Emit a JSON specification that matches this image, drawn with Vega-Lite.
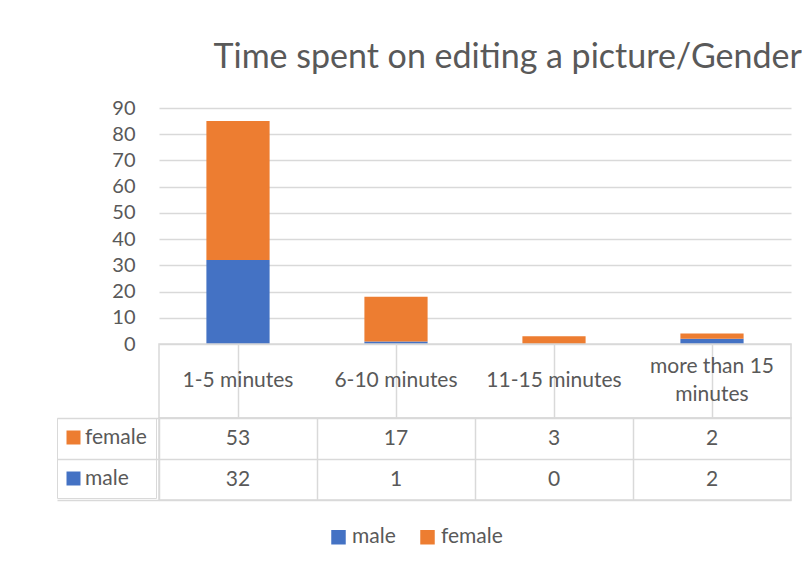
{
  "$schema": "https://vega.github.io/schema/vega-lite/v6.json",
  "padding": {"left": 55, "top": 40, "right": 0, "bottom": 5},
  "autosize": {"type": "pad"},
  "background": "white",
  "bounds": "flush",
  "spacing": 0,
  "title": {
    "text": "Time spent on editing a picture/Gender",
    "anchor": "start",
    "dx": 158,
    "offset": 23.5,
    "font": "Lato",
    "fontSize": 34,
    "fontWeight": "normal",
    "color": "#595959"
  },
  "datasets": {
    "counts": [
      {"cat": "1-5 minutes", "series": "male", "value": 32},
      {"cat": "6-10 minutes", "series": "male", "value": 1},
      {"cat": "11-15 minutes", "series": "male", "value": 0},
      {"cat": "more than 15 minutes", "series": "male", "value": 2},
      {"cat": "1-5 minutes", "series": "female", "value": 53},
      {"cat": "6-10 minutes", "series": "female", "value": 17},
      {"cat": "11-15 minutes", "series": "female", "value": 3},
      {"cat": "more than 15 minutes", "series": "female", "value": 2}
    ],
    "cats": [
      {"cat": "1-5 minutes", "label": "1-5 minutes"},
      {"cat": "6-10 minutes", "label": "6-10 minutes"},
      {"cat": "11-15 minutes", "label": "11-15 minutes"},
      {"cat": "more than 15 minutes", "label": "more than 15\nminutes"}
    ]
  },
  "config": {
    "font": "Lato",
    "view": {"stroke": "#D9D9D9", "strokeWidth": 1.5}
  },
  "vconcat": [
    {
      "width": 632,
      "height": 236,
      "view": {"stroke": null},
      "data": {"name": "counts"},
      "mark": {"type": "bar"},
      "encoding": {
        "x": {
          "field": "cat",
          "type": "nominal",
          "scale": {
            "domain": ["1-5 minutes", "6-10 minutes", "11-15 minutes", "more than 15 minutes"],
            "paddingInner": 0.6,
            "paddingOuter": 0.3
          },
          "axis": null
        },
        "y": {
          "field": "value",
          "type": "quantitative",
          "stack": "zero",
          "scale": {"domain": [0, 90], "nice": false},
          "axis": {
            "values": [0, 10, 20, 30, 40, 50, 60, 70, 80, 90],
            "title": null,
            "grid": true,
            "gridColor": "#D9D9D9",
            "gridWidth": 1.5,
            "domain": false,
            "ticks": false,
            "labelPadding": 24,
            "labelFont": "Lato",
            "labelFontSize": 20,
            "labelColor": "#595959"
          }
        },
        "color": {
          "field": "series",
          "type": "nominal",
          "scale": {"domain": ["male", "female"], "range": ["#4472C4", "#ED7D31"]},
          "legend": {
            "orient": "none",
            "direction": "horizontal",
            "legendX": 169,
            "legendY": 418.5,
            "title": null,
            "padding": 0,
            "symbolType": "square",
            "symbolSize": 210,
            "symbolStrokeWidth": 0,
            "labelFont": "Lato",
            "labelFontSize": 21,
            "labelColor": "#595959",
            "labelOffset": 3,
            "columnPadding": 21
          }
        },
        "order": {"field": "series", "sort": "descending"}
      }
    },
    {
      "width": 632,
      "height": 74,
      "data": {"name": "cats"},
      "encoding": {
        "x": {
          "field": "cat",
          "type": "nominal",
          "scale": {
            "domain": ["1-5 minutes", "6-10 minutes", "11-15 minutes", "more than 15 minutes"],
            "paddingInner": 0,
            "paddingOuter": 0
          },
          "axis": {
            "title": null,
            "labels": false,
            "ticks": false,
            "domain": false,
            "grid": true,
            "bandPosition": 0,
            "gridColor": "#D9D9D9",
            "gridWidth": 1.5
          }
        },
        "text": {"field": "label", "type": "nominal"}
      },
      "layer": [
        {
          "transform": [{"filter": "indexof(datum.label, '\\n') < 0"}],
          "mark": {
            "type": "text",
            "font": "Lato",
            "fontSize": 21,
            "color": "#595959",
            "baseline": "middle"
          }
        },
        {
          "transform": [{"filter": "indexof(datum.label, '\\n') >= 0"}],
          "mark": {
            "type": "text",
            "font": "Lato",
            "fontSize": 21,
            "color": "#595959",
            "lineBreak": "\n",
            "lineHeight": 28,
            "baseline": "middle",
            "dy": -14
          }
        }
      ]
    },
    {
      "width": 632,
      "height": 82,
      "data": {"name": "counts"},
      "encoding": {
        "x": {
          "field": "cat",
          "type": "nominal",
          "scale": {
            "domain": ["1-5 minutes", "6-10 minutes", "11-15 minutes", "more than 15 minutes"],
            "paddingInner": 0,
            "paddingOuter": 0
          },
          "axis": {
            "title": null,
            "labels": false,
            "ticks": false,
            "domain": false,
            "grid": true,
            "bandPosition": 0,
            "gridColor": "#D9D9D9",
            "gridWidth": 1.5
          }
        },
        "y": {
          "field": "series",
          "type": "nominal",
          "scale": {"domain": ["female", "male"], "paddingInner": 0, "paddingOuter": 0},
          "axis": {
            "title": null,
            "labels": false,
            "domain": false,
            "ticks": true,
            "tickBand": "extent",
            "tickSize": 102,
            "tickColor": "#D9D9D9",
            "tickWidth": 1.5,
            "grid": true,
            "gridColor": "#D9D9D9",
            "gridWidth": 1.5
          }
        }
      },
      "layer": [
        {
          "mark": {"type": "rect", "fillOpacity": 0, "strokeWidth": 0},
          "encoding": {
            "fill": {
              "field": "series",
              "type": "nominal",
              "scale": {"domain": ["female", "male"], "range": ["#ED7D31", "#4472C4"]},
              "legend": {
                "orient": "none",
                "direction": "vertical",
                "legendX": -102,
                "legendY": 310,
                "title": null,
                "padding": 9,
                "strokeColor": "#D9D9D9",
                "symbolType": "square",
                "symbolSize": 196,
                "symbolOffset": -3,
                "symbolOpacity": 1,
                "symbolStrokeWidth": 0,
                "labelFont": "Lato",
                "labelFontSize": 21,
                "labelColor": "#595959",
                "labelOffset": 1,
                "rowPadding": 19
              }
            }
          }
        },
        {
          "mark": {
            "type": "text",
            "font": "Lato",
            "fontSize": 21,
            "color": "#595959",
            "baseline": "middle"
          },
          "encoding": {
            "text": {"field": "value", "type": "quantitative"}
          }
        }
      ]
    }
  ]
}
